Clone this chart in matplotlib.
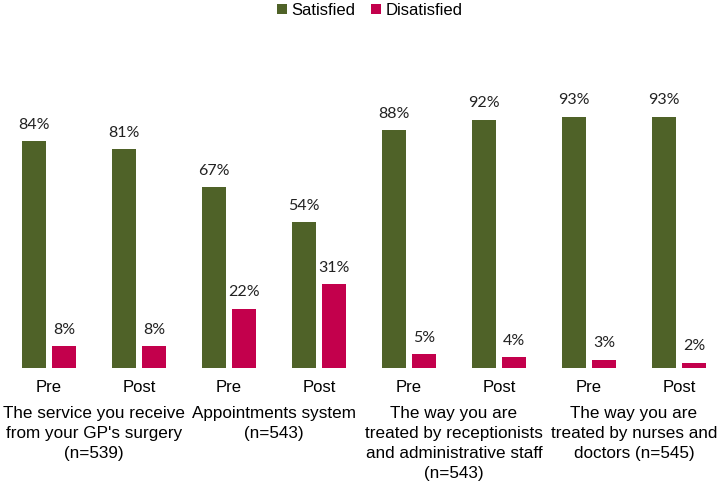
import numpy as np
import matplotlib.pyplot as plt
from matplotlib import transforms

phases = ["Pre", "Post", "Pre", "Post", "Pre", "Post", "Pre", "Post"]
satisfied = [84, 81, 67, 54, 88, 92, 93, 93]
disatisfied = [8, 8, 22, 31, 5, 4, 3, 2]
categories = ["The service you receive\nfrom your GP's surgery\n(n=539)",
              "Appointments system\n(n=543)",
              "The way you are\ntreated by receptionists\nand administrative staff\n(n=543)",
              "The way you are\ntreated by nurses and\ndoctors (n=545)"]

green = "#4F6228"
red = "#C3004C"

fig = plt.figure(figsize=(7.18, 4.9), dpi=100)
ax = fig.add_axes([0, 0.249, 1, 0.551])

x = np.arange(len(phases))
w = 0.267
b1 = ax.bar(x - 0.1667, satisfied, w, color=green, label="Satisfied")
b2 = ax.bar(x + 0.1667, disatisfied, w, color=red, label="Disatisfied")

for bars in (b1, b2):
    for r in bars:
        ax.text(r.get_x() + r.get_width() / 2, r.get_height() + 3.5, "%d%%" % r.get_height(),
                ha="center", va="bottom", fontsize=11.5, family="Lato", color="#222222")

ax.set_xlim(-0.544, 7.433)
ax.set_ylim(0, 100)
ax.set_yticks([])
ax.set_xticks(x)
ax.set_xticklabels(phases, fontsize=12, family="Liberation Sans")
ax.tick_params(axis="x", length=0, pad=9)
for s in ax.spines.values():
    s.set_visible(False)

trans = transforms.blended_transform_factory(ax.transData, ax.transAxes)
for i, cat in enumerate(categories):
    ax.text(2 * i + 0.5, -0.14, cat, transform=trans, ha="center", va="top",
            fontsize=12.3, family="Liberation Sans", linespacing=1.42)

fig.legend(loc="upper center", bbox_to_anchor=(0.515, 1.025), ncol=2, frameon=False,
           prop={"family": "Liberation Sans", "size": 12}, handlelength=0.6, handleheight=0.6,
           handletextpad=0.3, columnspacing=0.9)

fig.savefig("out.png", dpi=100)
